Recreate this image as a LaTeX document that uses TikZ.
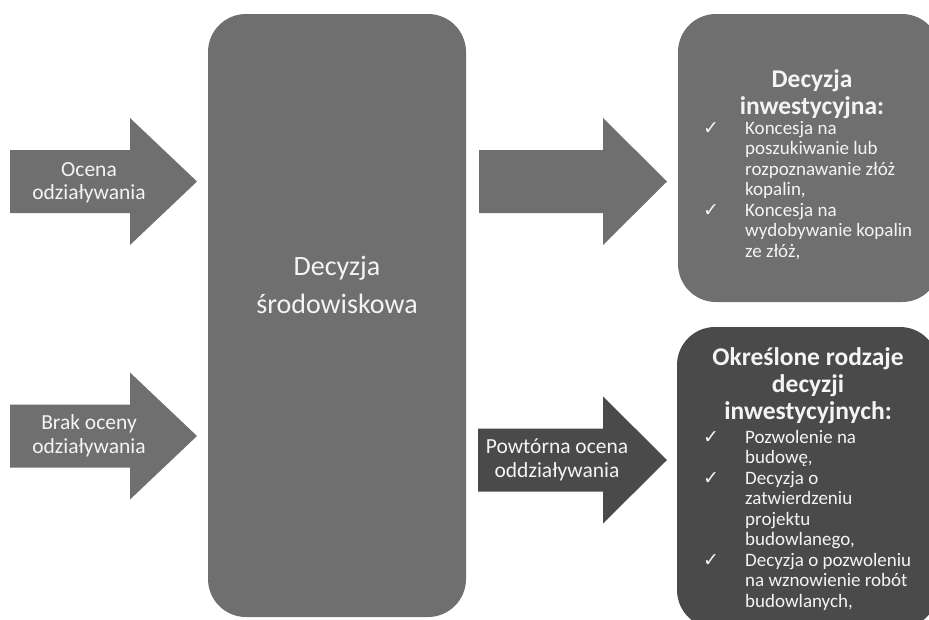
\documentclass[tikz,border=0pt]{standalone}
\usepackage{fontspec}
\setmainfont{Carlito}
\newfontfamily\checkfont{DejaVu Sans}
\usetikzlibrary{positioning}
\definecolor{boxgray}{HTML}{6F6F6F}
\definecolor{boxdark}{HTML}{4A4A4A}
\definecolor{textwhite}{HTML}{F4F4F4}
\newcommand{\chk}{{\checkfont\fontsize{19}{19}\selectfont ✓}}
% block arrow: colour, left, head base, tip, middle y
\newcommand{\blockarrow}[5]{%
\fill[#1] (#2,#5-31.5)--(#3,#5-31.5)--(#3,#5-63.5)--(#4,#5)--(#3,#5+63.5)--(#3,#5+31.5)--(#2,#5+31.5)--cycle;}

\begin{document}
\begin{tikzpicture}[x=1pt,y=-1pt,
panel/.style={fill=#1,rounded corners=38pt,inner sep=0pt},
arrtext/.style={text=textwhite,align=center,font=\fontsize{21.5}{23.5}\selectfont},
head/.style={text=textwhite,align=center,font=\fontsize{25.5}{27}\selectfont\bfseries},
items/.style={text=textwhite,anchor=north west,inner sep=0pt,font=\fontsize{19}{20.5}\selectfont}]
\useasboundingbox (0,0) rectangle (929,619);
\clip (0,0) rectangle (929,619);
% panels
\node[panel=boxgray,minimum width=258pt,minimum height=603pt] (srod) at (337,315.5) {};
\node[panel=boxgray,minimum width=262pt,minimum height=288pt] (inw) at (809,158) {};
\node[panel=boxdark,minimum width=261pt,minimum height=301pt] (rodz) at (807.5,477.5) {};
% arrows
\blockarrow{boxgray}{10}{130}{197}{181.5}
\blockarrow{boxgray}{10}{130}{197}{436}
\blockarrow{boxgray}{479}{603}{667}{181.5}
\blockarrow{boxdark}{478}{603}{667}{460}
\node[arrtext] (ocena) at (89,183) {Ocena\\odziaływania};
\node[arrtext] (brak) at (89,436) {Brak oceny\\odziaływania};
\node[arrtext] (powt) at (557,460) {Powtórna ocena\\oddziaływania};
% texts
\node[text=textwhite,align=center,font=\fontsize{28}{38}\selectfont] (srodtxt) at (337,285) {Decyzja\\środowiskowa};
\node[head] (inwhead) at (812,94) {Decyzja\\inwestycyjna:};
\node[items] (inwlist) at (703,119.5) {\begin{tabular}{@{}p{42pt}@{}l@{}}
\chk & Koncesja na\\
 & poszukiwanie lub\\
 & rozpoznawanie złóż\\
 & kopalin,\\
\chk & Koncesja na\\
 & wydobywanie kopalin\\
 & ze złóż,
\end{tabular}};
\node[head] (rodzhead) at (808,386) {Określone rodzaje\\decyzji\\inwestycyjnych:};
\node[items] (rodzlist) at (703,428.5) {\begin{tabular}{@{}p{42pt}@{}l@{}}
\chk & Pozwolenie na\\
 & budowę,\\
\chk & Decyzja o\\
 & zatwierdzeniu\\
 & projektu\\
 & budowlanego,\\
\chk & Decyzja o pozwoleniu\\
 & na wznowienie robót\\
 & budowlanych,
\end{tabular}};
\end{tikzpicture}
\end{document}
